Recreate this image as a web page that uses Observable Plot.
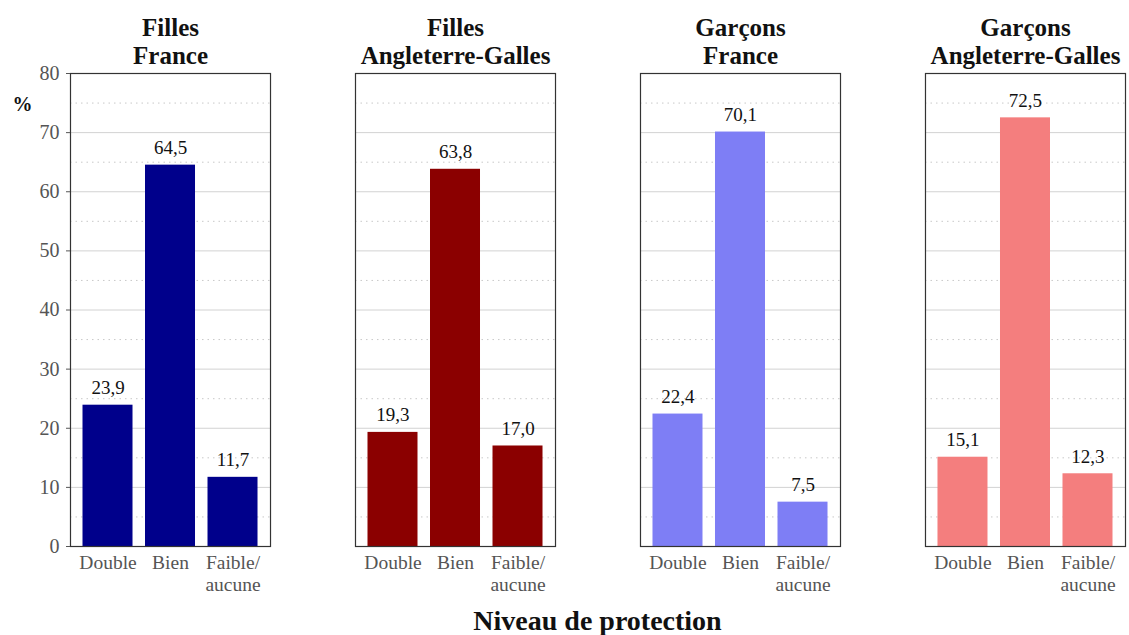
<!DOCTYPE html>
<html>
<head>
<meta charset="utf-8">
<script src="https://cdn.jsdelivr.net/npm/d3@7"></script>
<script src="https://cdn.jsdelivr.net/npm/@observablehq/plot@0.6"></script>
<style>
  body { margin: 0; background: #fff; }
  #wrap { width: 1129px; font-family: "Liberation Serif", serif; }
  #xlabel { width: 1055px; padding-left: 70px; padding-right: 4px; height: 35px; line-height: 42px; text-align: center; font-weight: bold; font-size: 28px; color: #111; }
</style>
</head>
<body>
<div id="wrap"></div>
<script>
const panels = ["Filles\nFrance", "Filles\nAngleterre-Galles", "Garçons\nFrance", "Garçons\nAngleterre-Galles"];
const colors = ["#00008B", "#8B0000", "#7E7EF5", "#F47E7E"];
const niveaux = ["Double", "Bien", "Faible/aucune"];
const niveauLabels = ["Double", "Bien", "Faible/\naucune"];
const fillesFrance = [23.9, 64.5, 11.7];
const fillesAngleterre = [19.3, 63.8, 17.0];
const garconsFrance = [22.4, 70.1, 7.5];
const garconsAngleterre = [15.1, 72.5, 12.3];
const yTicks = [0, 10, 20, 30, 40, 50, 60, 70, 80];
const yMinor = [5, 15, 25, 35, 45, 55, 65, 75];

const series = [fillesFrance, fillesAngleterre, garconsFrance, garconsAngleterre];
const data = [];
panels.forEach((p, i) => niveaux.forEach((n, j) => data.push({panel: p, niveau: n, value: series[i][j]})));

const fmt = v => v.toFixed(1).replace(".", ",");

const chart = Plot.plot({
  width: 1129,
  height: 600,
  marginLeft: 70,
  marginRight: 4,
  marginTop: 73,
  marginBottom: 54,
  style: {fontFamily: "Liberation Serif, serif", fontSize: "16px", background: "#fff"},
  fx: {domain: panels, paddingInner: 0.2982, paddingOuter: 0, round: false, axis: null, label: null},
  x: {domain: niveaux, paddingInner: 0.2, paddingOuter: 0.2, round: false, axis: null, label: null},
  y: {domain: [0, 80], axis: null, label: null},
  color: {domain: panels, range: colors},
  marks: [
    Plot.gridY(yMinor, {stroke: "#c8c8c8", strokeOpacity: 1, strokeDasharray: "1.5,4"}),
    Plot.gridY(yTicks, {stroke: "#d2d2d2", strokeOpacity: 1}),
    Plot.barY(data, {fx: "panel", x: "niveau", y: "value", fill: "panel"}),
    Plot.text(data, {fx: "panel", x: "niveau", y: "value", text: d => fmt(d.value), dy: -17, fontSize: 19, fill: "#111"}),
    Plot.frame({stroke: "#333", strokeWidth: 1.2}),
    Plot.axisY(yTicks, {tickSize: 4, tickPadding: 7, fontSize: 20, color: "#555", label: null}),
    Plot.axisX({tickSize: 0, tickPadding: 7, fontSize: 19.5, fill: "#555", label: null, lineHeight: 1.13,
      tickFormat: d => niveauLabels[niveaux.indexOf(d)]}),
    Plot.text(panels, {fx: d => d, text: d => d, frameAnchor: "top", dy: -10, lineAnchor: "bottom",
      fontWeight: "bold", fontSize: 25, lineHeight: 1.1, fill: "#111"}),
    Plot.text([panels[0]], {fx: d => d, text: () => "%", frameAnchor: "top-left", dx: -58, dy: 23,
      fontWeight: "bold", fontSize: 20, fill: "#111"})
  ]
});

const wrap = document.getElementById("wrap");
wrap.appendChild(chart);
const xl = document.createElement("div");
xl.id = "xlabel";
xl.textContent = "Niveau de protection";
wrap.appendChild(xl);
</script>
</body>
</html>
